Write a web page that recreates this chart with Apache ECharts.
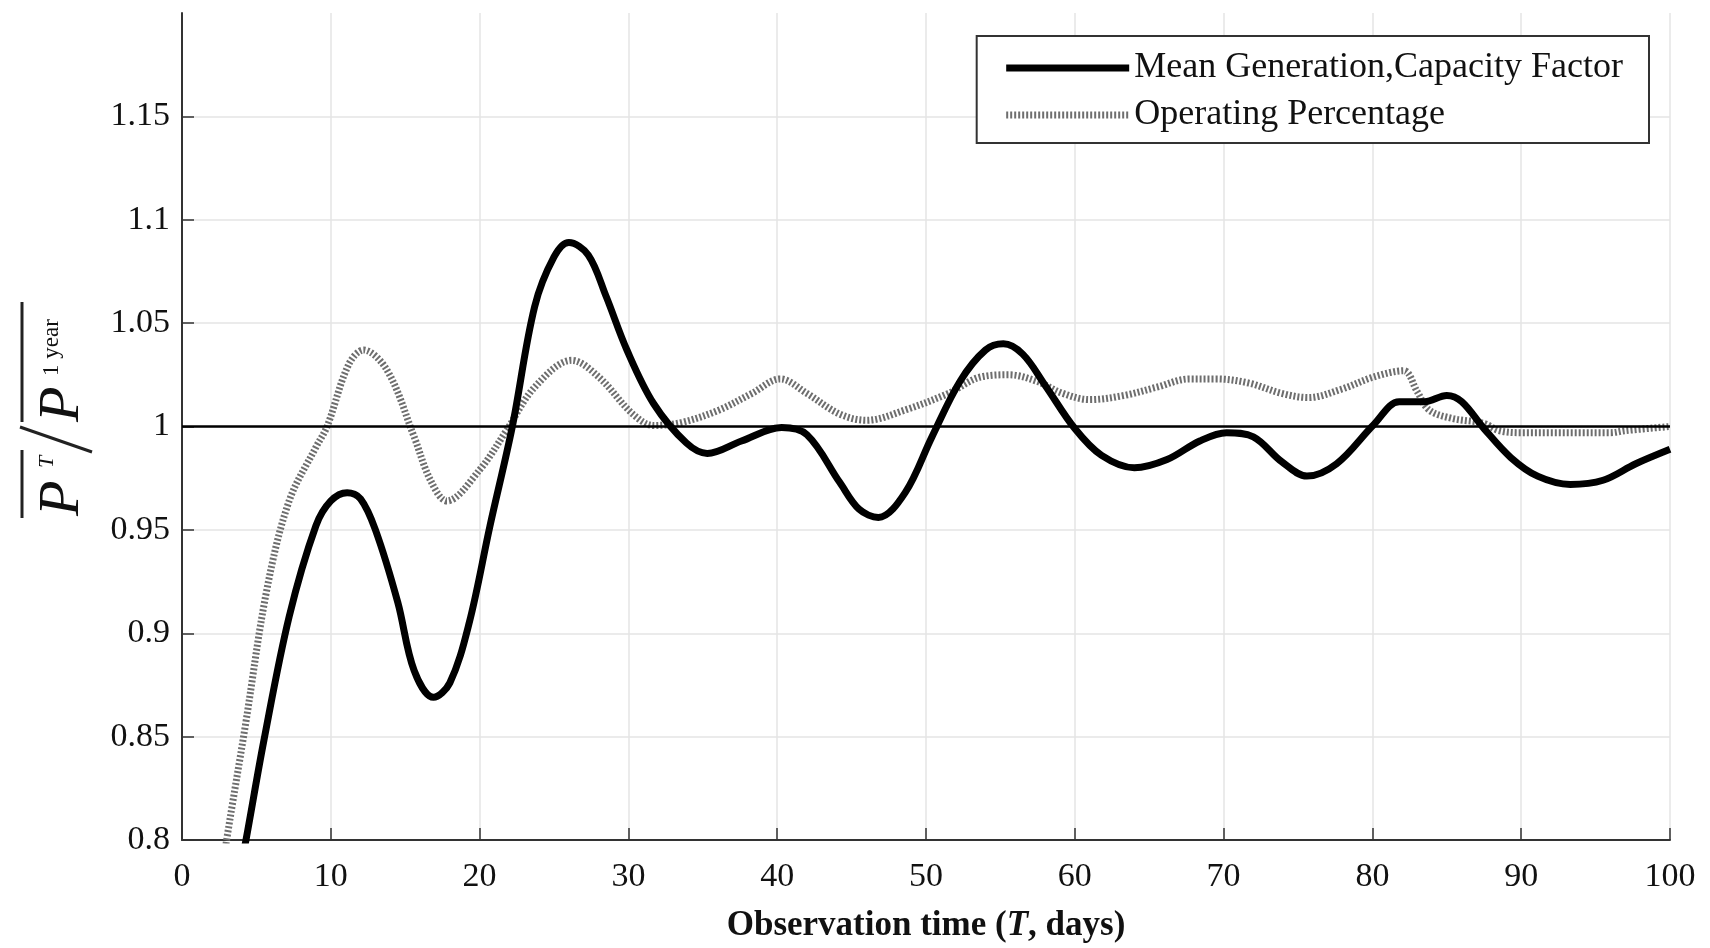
<!DOCTYPE html>
<html>
<head>
<meta charset="utf-8">
<style>
  html, body { margin: 0; padding: 0; background: #fff; }
  #chart { width: 1710px; height: 948px; }
</style>
<script src="https://cdn.jsdelivr.net/npm/echarts@6/dist/echarts.min.js"></script>
</head>
<body>
<div id="chart"></div>
<script>
// Observation time T (days) and normalised mean generation / capacity factor
const genDays = [3.5, 4.3, 5.5, 7.2, 9, 10, 11.1, 12, 13, 14.5, 15.6, 16.9, 18, 19.3, 20.7, 22.2, 23.7, 25, 26, 27.3, 28.5, 29.9, 31.7, 33.9, 35.3, 37.6, 40.3, 42, 44.2, 45.5, 46.8, 48.6, 50.4, 52.3, 54, 55.2, 56.5, 58, 60, 61.8, 64, 66.2, 68.4, 70.2, 72, 73.9, 75.6, 77.6, 80.1, 81.8, 83.5, 85, 86, 87.5, 89.3, 91.1, 93.3, 95.5, 97.7, 100];
const genValues = [0.77, 0.80, 0.848, 0.908, 0.952, 0.964, 0.968, 0.965, 0.950, 0.915, 0.882, 0.869, 0.876, 0.905, 0.952, 1.0, 1.058, 1.082, 1.089, 1.083, 1.063, 1.037, 1.011, 0.992, 0.987, 0.993, 0.9995, 0.996, 0.973, 0.960, 0.956, 0.968, 0.995, 1.022, 1.037, 1.040, 1.035, 1.020, 0.999, 0.986, 0.980, 0.984, 0.993, 0.997, 0.995, 0.983, 0.976, 0.982, 1.001, 1.012, 1.012, 1.015, 1.012, 0.999, 0.985, 0.976, 0.972, 0.974, 0.982, 0.989];

// Normalised operating percentage
const opDays = [2.5, 3.0, 4.25, 5.7, 7.2, 9, 9.75, 11.2, 12.2, 13.8, 15.6, 16.7, 17.8, 20, 21.8, 23.7, 26.2, 28, 30.3, 31.7, 33.6, 36.1, 38.3, 40.2, 42, 44.2, 46, 48.6, 51.5, 53.7, 55.6, 57.4, 59.2, 61, 63.3, 65.5, 67.7, 69.5, 71.7, 73.9, 75.7, 77.9, 80.1, 82.1, 83, 83.8, 85.3, 87.5, 88.5, 90, 96, 97, 100];
const opValues = [0.775, 0.80, 0.855, 0.921, 0.964, 0.99, 1.0, 1.030, 1.037, 1.027, 0.995, 0.974, 0.964, 0.979, 0.998, 1.019, 1.032, 1.024, 1.006, 1.0005, 1.002, 1.008, 1.016, 1.023, 1.016, 1.006, 1.003, 1.008, 1.016, 1.024, 1.025, 1.022, 1.016, 1.013, 1.015, 1.019, 1.023, 1.023, 1.021, 1.016, 1.014, 1.018, 1.024, 1.027, 1.017, 1.008, 1.004, 1.0015, 0.998, 0.997, 0.997, 0.998, 1.0];

// Reference level (ratio = 1)
const refDays = [0, 100];
const refValues = [1, 1];

const seriesNames = ['Mean Generation,Capacity Factor', 'Operating Percentage'];
const xAxisName = 'Observation time ({i|T}, days)';

const pair = (xs, ys) => xs.map((x, i) => [x, ys[i]]);

const serif = '"Liberation Serif", "DejaVu Serif", serif';
const ink = '#111';

const chart = echarts.init(document.getElementById('chart'), null, { renderer: 'canvas' });

// Rotated y-axis title: overline(P^T) / overline(P^{1 year}), laid out left-to-right
// in a local frame and turned a quarter turn so it reads bottom-to-top.
const pFont = 'italic 58px ' + serif;
const supItalicFont = 'italic 22px ' + serif;
const supFont = '23px ' + serif;

const option = {
  animation: false,
  backgroundColor: '#fff',
  grid: { left: 182, right: 40, top: 13, bottom: 108, containLabel: false },
  legend: {
    data: seriesNames,
    orient: 'vertical',
    right: 61,
    top: 36,
    padding: [14, 26, 10, 26],
    itemGap: 11,
    itemWidth: 123,
    itemHeight: 20,
    backgroundColor: '#fff',
    borderColor: '#333',
    borderWidth: 2,
    borderRadius: 0,
    itemStyle: { opacity: 0 },
    lineStyle: { width: 'inherit', type: 'inherit' },
    textStyle: { fontFamily: serif, fontSize: 36, color: ink, lineHeight: 36 }
  },
  xAxis: {
    type: 'value',
    min: 0,
    max: 100,
    interval: 10,
    name: xAxisName,
    nameLocation: 'middle',
    nameGap: 68,
    nameTextStyle: {
      fontFamily: serif, fontSize: 35, fontWeight: 'bold', color: ink,
      rich: { i: { fontFamily: serif, fontSize: 35, fontWeight: 'bold', fontStyle: 'italic', color: ink } }
    },
    axisLine: { lineStyle: { color: '#333', width: 2 } },
    axisTick: { inside: true, length: 12, lineStyle: { color: '#333', width: 1.5 } },
    axisLabel: { fontFamily: serif, fontSize: 34, color: ink, margin: 20 },
    splitLine: { show: true, showMinLine: false, lineStyle: { color: '#e4e4e4', width: 1.5 } }
  },
  yAxis: {
    type: 'value',
    min: 0.8,
    max: 1.2,
    interval: 0.05,
    axisLine: { show: true, lineStyle: { color: '#333', width: 2 } },
    axisTick: { show: true, inside: true, length: 12, lineStyle: { color: '#333', width: 1.5 } },
    axisLabel: { fontFamily: serif, fontSize: 34, color: ink, margin: 12, showMaxLabel: false },
    splitLine: { show: true, showMinLine: false, showMaxLine: false, lineStyle: { color: '#e4e4e4', width: 1.5 } }
  },
  series: [
    {
      name: seriesNames[1],
      type: 'line',
      data: pair(opDays, opValues),
      smooth: 0.35,
      showSymbol: false,
      symbol: 'none',
      lineStyle: { color: '#6e6e6e', width: 7, type: [2, 2] },
      itemStyle: { color: '#6e6e6e' }
    },
    {
      name: 'ref',
      type: 'line',
      data: pair(refDays, refValues),
      showSymbol: false,
      symbol: 'none',
      silent: true,
      lineStyle: { color: '#000', width: 2.5 }
    },
    {
      name: seriesNames[0],
      type: 'line',
      data: pair(genDays, genValues),
      smooth: 0.35,
      showSymbol: false,
      symbol: 'none',
      lineStyle: { color: '#000', width: 7 },
      itemStyle: { color: '#000' }
    }
  ],
  graphic: [
    {
      type: 'group',
      x: 0,
      y: 518,
      rotation: Math.PI / 2,
      children: [
        // numerator
        { type: 'line', shape: { x1: 0, y1: 22, x2: 68, y2: 22 }, style: { stroke: '#222', lineWidth: 3 } },
        { type: 'text', x: 2, y: 92, style: { text: 'P', font: pFont, fill: ink, verticalAlign: 'bottom', align: 'left' } },
        { type: 'text', x: 50, y: 58, style: { text: 'T', font: supItalicFont, fill: ink, verticalAlign: 'bottom', align: 'left' } },
        // fraction slash
        { type: 'line', shape: { x1: 66, y1: 92, x2: 91, y2: 20 }, style: { stroke: '#222', lineWidth: 3 } },
        // denominator
        { type: 'line', shape: { x1: 96, y1: 22, x2: 216, y2: 22 }, style: { stroke: '#222', lineWidth: 3 } },
        { type: 'text', x: 96, y: 92, style: { text: 'P', font: pFont, fill: ink, verticalAlign: 'bottom', align: 'left' } },
        { type: 'text', x: 142, y: 63, style: { text: '1 year', font: supFont, fill: ink, verticalAlign: 'bottom', align: 'left' } }
      ]
    }
  ]
};

chart.setOption(option);
</script>
</body>
</html>
